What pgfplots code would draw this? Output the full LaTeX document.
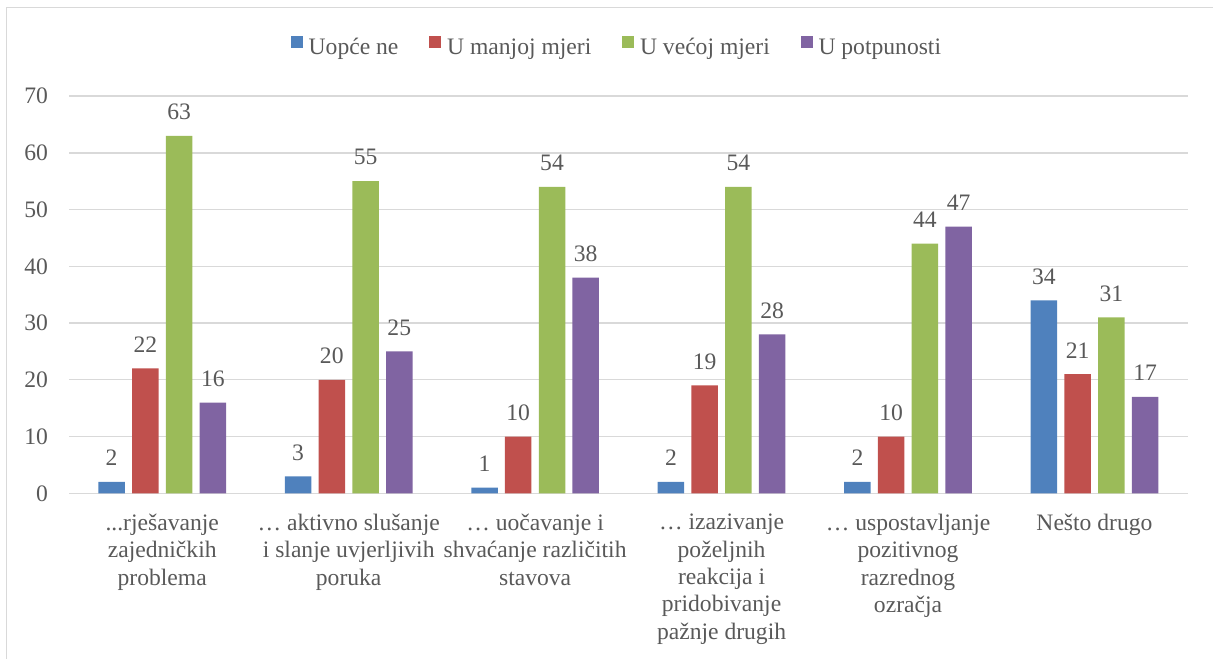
\documentclass[border=0pt]{standalone}
\usepackage{pgfplots}
\pgfplotsset{compat=1.18}
\usepackage{fontspec}
\setmainfont{Liberation Serif}
\definecolor{cBlue}{HTML}{4F81BD}
\definecolor{cRed}{HTML}{C0504D}
\definecolor{cGreen}{HTML}{9BBB59}
\definecolor{cPurple}{HTML}{8064A2}
\definecolor{cText}{HTML}{595959}
\definecolor{cGrid}{HTML}{D9D9D9}
\newcommand\myfont{\fontsize{23.6bp}{27.3bp}\selectfont}
\newcommand\tdots{...}
\begin{document}
\begin{tikzpicture}
\useasboundingbox (0,0) rectangle (1213bp,-659bp);
\draw[cGrid, line width=1.3bp] (6.5bp,-659bp) -- (6.5bp,-7.5bp) -- (1213bp,-7.5bp);
\begin{axis}[
  at={(69bp,-493.3bp)}, anchor=south west,
  scale only axis, width=1118.7bp, height=397.2bp,
  ybar, bar width=26.5bp,
  xmin=-0.5, xmax=5.5, ymin=0, ymax=70,
  ytick={0,10,20,30,40,50,60,70},
  yticklabels={0,10,20,30,40,50,60,70},
  xtick={0,1,2,3,4,5},
  xticklabels={
    {\tdots{}rješavanje\\zajedničkih\\problema},
    {… aktivno slušanje\\i slanje uvjerljivih\\poruka},
    {… uočavanje i\\shvaćanje različitih\\stavova},
    {… izazivanje\\poželjnih\\reakcija i\\pridobivanje\\pažnje drugih},
    {… uspostavljanje\\pozitivnog\\razrednog\\ozračja},
    {Nešto drugo}},
  /pgf/number format/assume math mode=true,
  axis line style={draw=none},
  tick style={draw=none},
  major tick length=0pt,
  ymajorgrids, grid style={cGrid, line width=1.3bp},
  xticklabel style={font=\myfont, text=cText, align=center, anchor=north, inner sep=0pt, yshift=-20.7bp},
  yticklabel style={font=\myfont, text=cText, anchor=east, inner sep=0pt, xshift=-20.8bp},
  nodes near coords,
  every node near coord/.append style={font=\myfont, text=cText, inner sep=0pt, anchor=south, yshift=15.8bp},
  clip=false,
  legend columns=4,
  legend style={draw=none, fill=none, font=\myfont, text=cText, inner sep=0pt,
    at={(0.489,1.1256)}, anchor=center,
    nodes={inner sep=0pt},
    /tikz/every odd column/.append style={column sep=6bp},
    /tikz/every even column/.append style={column sep=31bp}},
]
\addplot[fill=cBlue, draw=none, bar shift=-50.6bp,
  legend image code/.code={\fill[cBlue] (0bp,-0.3bp) rectangle (11.7bp,11.4bp);}]
  coordinates {(0,2) (1,3) (2,1) (3,2) (4,2) (5,34)};
\addplot[fill=cRed, draw=none, bar shift=-16.9bp,
  legend image code/.code={\fill[cRed] (0bp,-0.3bp) rectangle (11.7bp,11.4bp);}]
  coordinates {(0,22) (1,20) (2,10) (3,19) (4,10) (5,21)};
\addplot[fill=cGreen, draw=none, bar shift=16.9bp,
  legend image code/.code={\fill[cGreen] (0bp,-0.3bp) rectangle (11.7bp,11.4bp);}]
  coordinates {(0,63) (1,55) (2,54) (3,54) (4,44) (5,31)};
\addplot[fill=cPurple, draw=none, bar shift=50.6bp,
  legend image code/.code={\fill[cPurple] (0bp,-0.3bp) rectangle (11.7bp,11.4bp);}]
  coordinates {(0,16) (1,25) (2,38) (3,28) (4,47) (5,17)};
\legend{Uopće ne, U manjoj mjeri, U većoj mjeri, U potpunosti}
\end{axis}
\end{tikzpicture}
\end{document}
